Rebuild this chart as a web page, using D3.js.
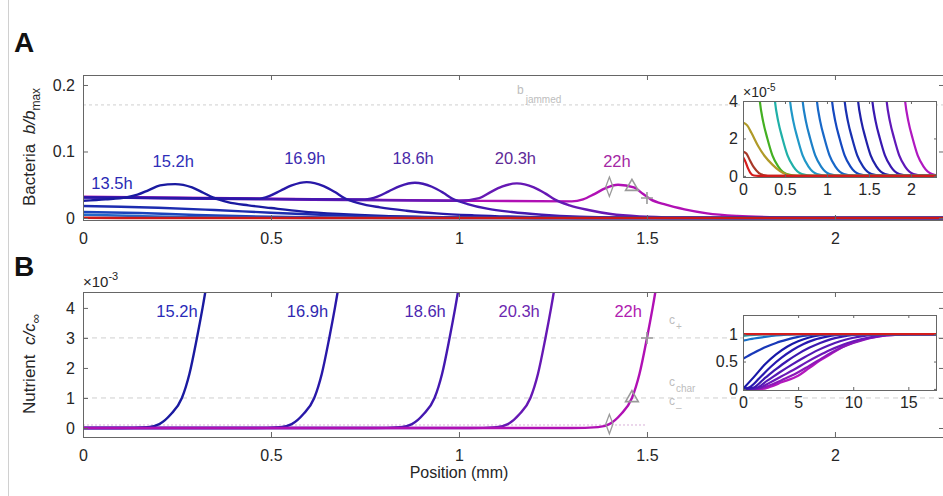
<!DOCTYPE html>
<html>
<head>
<meta charset="utf-8">
<script src="https://cdn.jsdelivr.net/npm/d3@7"></script>
<style>
body { margin: 0; background: #fff; }
text { font-family: "Liberation Sans", Arial, Helvetica, sans-serif; }
</style>
</head>
<body>
<div id="main"></div>
<script>
// ---------------- data ----------------
const xTicks = [0, 0.5, 1, 1.5, 2];
const bacteriaTicks = [0, 0.1, 0.2];
const nutrientTicks = [0, 1, 2, 3, 4];          // x 1e-3
const insetBTicksX = [0, 0.5, 1, 1.5, 2];
const insetBTicksY = [0, 2, 4];                 // x 1e-5
const insetCTicksX = [0, 5, 10, 15];
const insetCTicksY = [0, 0.5, 1];

const timeLabels = ["13.5h", "15.2h", "16.9h", "18.6h", "20.3h", "22h"];
const bJammed = 0.17;
const cLevels = [3.0, 1.0, 0.1];               // c+, cchar, c-  (x 1e-3)

// markers on the 22h profile
const markerX = [1.40, 1.46, 1.50];
const markerB = [0.047, 0.047, 0.030];
const markerC = [0.13, 1.0, 3.0];

// panel A, bacteria profiles b/bmax
const bEarliest = [[0, 0.0003], [0.1, 0], [2.3, 0]];
const bEarly3 = [[0, 0.005], [0.15, 0.003], [0.3, 0.0012], [0.5, 0.0002], [0.7, 0], [2.3, 0]];
const bEarly2 = [[0, 0.009], [0.15, 0.0075], [0.3, 0.0045], [0.5, 0.0018], [0.7, 0.0004], [0.9, 0], [2.3, 0]];
const b135 = [[0, 0.018], [0.1, 0.017], [0.2, 0.0155], [0.35, 0.012], [0.5, 0.008], [0.65, 0.0045], [0.8, 0.002], [1.0, 0.0005], [1.2, 0], [2.3, 0]];
const b152 = [[0, 0.026], [0.06, 0.028], [0.115, 0.031], [0.145, 0.035], [0.175, 0.042], [0.205, 0.049], [0.245, 0.051], [0.29, 0.046], [0.32, 0.038], [0.345, 0.031], [0.385, 0.024], [0.44, 0.019], [0.5, 0.015], [0.58, 0.01], [0.68, 0.006], [0.8, 0.003], [1.0, 0.001], [1.2, 0], [2.3, 0]];
const b169 = [[0, 0.031], [0.25, 0.030], [0.465, 0.029], [0.495, 0.033], [0.525, 0.041], [0.555, 0.049], [0.595, 0.054], [0.64, 0.048], [0.67, 0.039], [0.695, 0.030], [0.735, 0.022], [0.79, 0.016], [0.86, 0.011], [0.94, 0.007], [1.04, 0.004], [1.18, 0.0015], [1.35, 0], [2.3, 0]];
const b186 = [[0, 0.031], [0.4, 0.029], [0.75, 0.028], [0.783, 0.032], [0.813, 0.040], [0.843, 0.048], [0.883, 0.053], [0.928, 0.047], [0.958, 0.038], [0.983, 0.029], [1.023, 0.021], [1.075, 0.014], [1.14, 0.009], [1.22, 0.005], [1.32, 0.002], [1.47, 0.0005], [1.6, 0], [2.3, 0]];
const b203 = [[0, 0.031], [0.5, 0.028], [1.0, 0.026], [1.054, 0.030], [1.084, 0.039], [1.114, 0.047], [1.154, 0.052], [1.199, 0.046], [1.229, 0.037], [1.254, 0.028], [1.294, 0.019], [1.344, 0.012], [1.404, 0.006], [1.48, 0.0025], [1.6, 0.0007], [1.75, 0], [2.3, 0]];
const b220 = [[0, 0.032], [0.5, 0.029], [1.0, 0.026], [1.3, 0.025], [1.33, 0.028], [1.36, 0.036], [1.39, 0.045], [1.423, 0.050], [1.465, 0.046], [1.49, 0.036], [1.51, 0.028], [1.55, 0.020], [1.6, 0.013], [1.66, 0.007], [1.74, 0.003], [1.85, 0.001], [2.0, 0], [2.3, 0]];

// panel A inset (x 1e-5)
const insetRed = [[0, 1.0], [0.03, 0.75], [0.06, 0.4], [0.09, 0.15], [0.13, 0.02], [0.18, 0], [2.31, 0]];
const insetBrown = [[0, 1.3], [0.04, 1.2], [0.08, 0.85], [0.13, 0.45], [0.19, 0.15], [0.26, 0.03], [0.33, 0], [2.31, 0]];
const insetOlive = [[0, 2.85], [0.05, 2.7], [0.1, 2.3], [0.18, 1.6], [0.26, 1.05], [0.35, 0.6], [0.44, 0.25], [0.52, 0.07], [0.6, 0], [2.31, 0]];
const frontY = [5, 4, 2.9, 2.0, 1.1, 0.5, 0.1, 0, 0];
const frontX = [
    [0.18, 0.20, 0.24, 0.29, 0.35, 0.42, 0.52, 0.65, 2.31],
    [0.36, 0.38, 0.42, 0.47, 0.53, 0.60, 0.70, 0.83, 2.31],
    [0.54, 0.56, 0.60, 0.65, 0.71, 0.78, 0.88, 1.01, 2.31],
    [0.69, 0.71, 0.75, 0.80, 0.86, 0.93, 1.03, 1.16, 2.31],
    [0.86, 0.88, 0.92, 0.97, 1.03, 1.10, 1.20, 1.33, 2.31],
    [1.04, 1.06, 1.10, 1.15, 1.21, 1.28, 1.38, 1.51, 2.31],
    [1.19, 1.21, 1.25, 1.30, 1.36, 1.43, 1.53, 1.66, 2.31],
    [1.35, 1.37, 1.41, 1.46, 1.52, 1.59, 1.69, 1.82, 2.31],
    [1.52, 1.54, 1.58, 1.63, 1.69, 1.76, 1.86, 1.99, 2.31],
    [1.69, 1.71, 1.75, 1.80, 1.86, 1.93, 2.03, 2.16, 2.31],
    [1.91, 1.93, 1.97, 2.02, 2.08, 2.15, 2.25, 2.38, 2.40]
];

// panel B, nutrient profiles c/cinf (x 1e-3)
const c152 = [[0, 0], [0.10, 0], [0.173, 0.03], [0.203, 0.13], [0.233, 0.45], [0.263, 1.0], [0.283, 1.8], [0.303, 3.0], [0.318, 4.0], [0.338, 5.5]];
const c169 = [[0, 0], [0.45, 0], [0.525, 0.03], [0.555, 0.13], [0.585, 0.45], [0.615, 1.0], [0.635, 1.8], [0.655, 3.0], [0.67, 4.0], [0.69, 5.5]];
const c186 = [[0, 0], [0.77, 0], [0.845, 0.03], [0.875, 0.13], [0.905, 0.45], [0.935, 1.0], [0.955, 1.8], [0.975, 3.0], [0.99, 4.0], [1.01, 5.5]];
const c203 = [[0, 0], [1.03, 0], [1.10, 0.03], [1.13, 0.13], [1.16, 0.45], [1.19, 1.0], [1.21, 1.8], [1.23, 3.0], [1.245, 4.0], [1.265, 5.5]];
const c220 = [[0, 0], [1.30, 0], [1.37, 0.03], [1.40, 0.13], [1.43, 0.45], [1.46, 1.0], [1.48, 1.8], [1.50, 3.0], [1.515, 4.0], [1.535, 5.5]];

// panel B inset
const cInRed = [[0, 1], [17.6, 1]];
const cInTeal = [[0, 0.97], [1, 0.985], [2, 0.995], [3, 1], [17.6, 1]];
const cInLight = [[0, 0.88], [1, 0.92], [2, 0.95], [3, 0.975], [4, 0.99], [5, 1], [17.6, 1]];
const cInBlue = [[0, 0.55], [1, 0.66], [2, 0.76], [3, 0.84], [4, 0.9], [5, 0.95], [6, 0.98], [7, 1], [17.6, 1]];
const cIn1 = [[0, 0], [1, 0.22], [2, 0.45], [3, 0.63], [4, 0.77], [5, 0.87], [6, 0.94], [7, 0.98], [8, 1], [17.6, 1]];
const cIn2 = [[0, 0], [0.6, 0.03], [1.5, 0.2], [2.5, 0.4], [3.5, 0.57], [4.5, 0.71], [5.5, 0.82], [6.5, 0.9], [7.5, 0.95], [8.5, 0.985], [9.5, 1], [17.6, 1]];
const cIn3 = [[0, 0], [0.9, 0.02], [2, 0.2], [3, 0.36], [4, 0.51], [5, 0.64], [6, 0.75], [7, 0.84], [8, 0.91], [9, 0.955], [10, 0.985], [11, 1], [17.6, 1]];
const cIn4 = [[0, 0], [1.1, 0.01], [2.2, 0.15], [3.3, 0.3], [4.4, 0.44], [5.5, 0.57], [6.6, 0.69], [7.7, 0.79], [8.8, 0.87], [9.9, 0.93], [11, 0.97], [12, 0.99], [13, 1], [17.6, 1]];
const cIn5 = [[0, 0], [1.3, 0.01], [2.4, 0.11], [3.5, 0.23], [4.6, 0.35], [5.7, 0.48], [6.8, 0.6], [7.9, 0.71], [9, 0.8], [10, 0.87], [11, 0.92], [12, 0.96], [13, 0.985], [14, 1], [17.6, 1]];
const cIn6 = [[0, 0], [1.5, 0.01], [2.5, 0.07], [3.5, 0.16], [4.8, 0.28], [6, 0.42], [7, 0.54], [8, 0.66], [9, 0.76], [10, 0.84], [11, 0.9], [12, 0.945], [13, 0.975], [14, 0.99], [15, 1], [17.6, 1]];
const cIn7 = [[0, 0], [1.7, 0], [2.5, 0.04], [3.5, 0.12], [5, 0.24], [6, 0.38], [7, 0.52], [8, 0.64], [9, 0.76], [10, 0.85], [11, 0.91], [12, 0.95], [13, 0.975], [14, 0.99], [15.5, 1], [17.6, 1]];

// ---------------- layout & style ----------------
const ctx = {
    width: 943,
    height: 496,
    left: 83,
    right: 944,
    aTop: 75, aBottom: 220,
    bTop: 292, bBottom: 437,
    inLeft: 743, inRight: 937,
    inATop: 101, inABottom: 177,
    inBTop: 315, inBBottom: 390,
    boxColor: "#666",
    textColor: "#262626",
    faint: "#bdbdbd",
    font: 16
};

const curveColorsA = ["#b010b4", "#6618b4", "#4418b0", "#2818a8", "#1a1aa0", "#1c2cb0", "#1c44bc", "#2068c8", "#cc1818"];
const frontColors = ["#44b022", "#20b0a8", "#2098c8", "#1c80c8", "#1868c8", "#1448c0", "#1830b0", "#2020a8", "#3818b0", "#6018b8", "#b018c0"];
const curveColorsB = ["#1a1aa0", "#2818a8", "#4418b0", "#6618b4", "#b010b4"];
const inCColors = ["#1818a8", "#2818b0", "#3c18b0", "#5418b4", "#6c18b8", "#8c18b8", "#b418bc"];
const labelColorsA = ["#2a2ab4", "#2e2eb8", "#3a2ab0", "#4a2aa8", "#5e2a98", "#a428a4"];
const labelColorsB = ["#2a2ab8", "#3028b0", "#4c28b0", "#6c28b0", "#b020b0"];

function styleAxis(g){
    g.select(".domain").remove();
    g.attr("font-size", ctx.font).attr("font-family", null);
    g.selectAll("line").attr("stroke", ctx.boxColor);
    g.selectAll("text").attr("fill", ctx.textColor);
}

function drawFrame(g, x, y, xt, yt, fmtY, tick, padX, padY, bottom){
    let x0 = x.range()[0], x1 = x.range()[1];
    let yb = bottom, ytop = y.range()[1];
    g.append("g").attr("transform", "translate(0," + yb + ")")
        .call(d3.axisBottom(x).tickValues(xt).tickSizeInner(-tick).tickSizeOuter(0).tickPadding(padX).tickFormat(d => String(d)))
        .call(styleAxis);
    g.append("g").attr("transform", "translate(0," + ytop + ")")
        .call(d3.axisTop(x).tickValues(xt).tickSizeInner(-tick).tickSizeOuter(0).tickFormat(""))
        .call(styleAxis);
    g.append("g").attr("transform", "translate(" + x0 + ",0)")
        .call(d3.axisLeft(y).tickValues(yt).tickSizeInner(-tick).tickSizeOuter(0).tickPadding(padY).tickFormat(fmtY))
        .call(styleAxis);
    g.append("g").attr("transform", "translate(" + x1 + ",0)")
        .call(d3.axisRight(y).tickValues(yt).tickSizeInner(-tick).tickSizeOuter(0).tickFormat(""))
        .call(styleAxis);
    g.append("rect")
        .attr("x", x0 + 0.5).attr("y", ytop + 0.5)
        .attr("width", x1 - x0 - 1).attr("height", yb - ytop)
        .attr("fill", "none").attr("stroke", ctx.boxColor).attr("stroke-width", 1);
}

function addClip(svg, id, x, y){
    svg.select("defs").append("clipPath").attr("id", id).append("rect")
        .attr("x", x.range()[0]).attr("y", y.range()[1])
        .attr("width", x.range()[1] - x.range()[0])
        .attr("height", y.range()[0] - y.range()[1]);
}

function drawCurves(g, curves, colors, x, y, width){
    let line = d3.line().x(d => x(d[0])).y(d => y(d[1])).curve(d3.curveMonotoneX);
    curves.forEach((c, i) => {
        g.append("path").attr("d", line(c))
            .attr("fill", "none").attr("stroke", colors[i])
            .attr("stroke-width", width).attr("stroke-linejoin", "round");
    });
}

function drawMarkers(g, xs, ys, x, y){
    // diamond, triangle, plus
    g.append("path").attr("d", d3.symbol().type(d3.symbolDiamond).size(70)())
        .attr("transform", "translate(" + x(xs[0]) + "," + y(ys[0]) + ") scale(0.8,1.25)")
        .attr("fill", "none").attr("stroke", "#9a9a9a").attr("stroke-width", 1.5);
    g.append("path").attr("d", d3.symbol().type(d3.symbolTriangle).size(70)())
        .attr("transform", "translate(" + x(xs[1]) + "," + y(ys[1]) + ")")
        .attr("fill", "none").attr("stroke", "#9a9a9a").attr("stroke-width", 1.6);
    g.append("path").attr("d", "M-6,0H6M0,-6V6")
        .attr("transform", "translate(" + x(xs[2]) + "," + y(ys[2]) + ")")
        .attr("fill", "none").attr("stroke", "#9a9a9a").attr("stroke-width", 1.6);
}

function createViz(){
    let svg = d3.select("#main").append("svg")
        .attr("width", ctx.width).attr("height", ctx.height);
    svg.append("defs");
    svg.append("rect").attr("width", ctx.width).attr("height", ctx.height).attr("fill", "white");
    svg.append("line").attr("x1", 8.5).attr("x2", 8.5).attr("y1", 0).attr("y2", ctx.height)
        .attr("stroke", "#d0d0d0");

    drawPanelA(svg);
    drawPanelB(svg);
}

function drawPanelA(svg){
    let x = d3.scaleLinear().domain([0, 2.29]).range([ctx.left, ctx.right]);
    let y = d3.scaleLinear().domain([-0.003, 0.215]).range([ctx.aBottom, ctx.aTop]);
    let g = svg.append("g").attr("id", "panelA");
    addClip(svg, "clipA", x, y);

    g.append("text").attr("x", 14).attr("y", 52).attr("font-size", 28).attr("font-weight", "bold")
        .attr("fill", "#111").text("A");

    let plot = g.append("g").attr("clip-path", "url(#clipA)");
    plot.append("line")
        .attr("x1", x(0)).attr("x2", x(2.29)).attr("y1", y(bJammed)).attr("y2", y(bJammed))
        .attr("stroke", "#cfcfcf").attr("stroke-dasharray", "3,3");
    let bj = g.append("text").attr("x", 517).attr("y", y(bJammed) - 11).attr("font-size", 12).attr("fill", ctx.faint);
    bj.append("tspan").text("b");
    bj.append("tspan").attr("font-size", 10).attr("dy", 9).attr("dx", 2).text("jammed");

    drawCurves(plot, [b220, b203, b186, b169, b152, b135, bEarly2, bEarly3, bEarliest], curveColorsA, x, y, 2.4);
    drawMarkers(plot, markerX, markerB, x, y);

    drawFrame(g, x, y, xTicks, bacteriaTicks, d => d === 0 ? "0" : d3.format(".1f")(d), 5, 13, 8, ctx.aBottom);

    let labelPos = [[0.077, 0.043], [0.24, 0.076], [0.59, 0.081], [0.878, 0.081], [1.15, 0.081], [1.42, 0.076]];
    timeLabels.forEach((t, i) => {
        g.append("text").attr("x", x(labelPos[i][0])).attr("y", y(labelPos[i][1]))
            .attr("text-anchor", "middle").attr("font-size", 16.5).attr("fill", labelColorsA[i]).text(t);
    });

    let yl = g.append("text").attr("transform", "translate(35,147) rotate(-90)")
        .attr("text-anchor", "middle").attr("font-size", 17).attr("fill", ctx.textColor);
    yl.append("tspan").text("Bacteria\u00a0\u00a0");
    yl.append("tspan").attr("font-style", "italic").text("b/b");
    yl.append("tspan").attr("font-size", 12).attr("dy", 5).text("max");

    // inset
    let xi = d3.scaleLinear().domain([0, 2.31]).range([ctx.inLeft, ctx.inRight]);
    let yi = d3.scaleLinear().domain([-0.06, 4]).range([ctx.inABottom, ctx.inATop]);
    addClip(svg, "clipAi", xi, yi);
    g.append("rect").attr("x", ctx.inLeft).attr("y", ctx.inATop)
        .attr("width", ctx.inRight - ctx.inLeft).attr("height", ctx.inABottom - ctx.inATop).attr("fill", "white");
    let ip = g.append("g").attr("clip-path", "url(#clipAi)");
    let fronts = frontX.map(xs => xs.map((v, j) => [v, frontY[j]])).reverse();
    drawCurves(ip, fronts.concat([insetOlive, insetBrown, insetRed]),
        frontColors.slice().reverse().concat(["#b09a28", "#a83828", "#d41c1c"]), xi, yi, 2.2);
    drawFrame(g, xi, yi, insetBTicksX, insetBTicksY, d => String(d), 3, 7, 5, ctx.inABottom);
    let ex = g.append("text").attr("x", ctx.inLeft).attr("y", ctx.inATop - 4).attr("font-size", 14).attr("fill", ctx.textColor);
    ex.append("tspan").text("\u00d710");
    ex.append("tspan").attr("font-size", 10).attr("dy", -6).text("-5");
}

function drawPanelB(svg){
    let x = d3.scaleLinear().domain([0, 2.29]).range([ctx.left, ctx.right]);
    let y = d3.scaleLinear().domain([-0.3, 4.53]).range([ctx.bBottom, ctx.bTop]);
    let g = svg.append("g").attr("id", "panelB");
    addClip(svg, "clipB", x, y);

    g.append("text").attr("x", 14).attr("y", 276).attr("font-size", 28).attr("font-weight", "bold")
        .attr("fill", "#111").text("B");

    let plot = g.append("g").attr("clip-path", "url(#clipB)");
    let levelEnds = [2.29, 2.29, 1.5];
    cLevels.forEach((c, i) => {
        plot.append("line").attr("x1", x(0)).attr("x2", x(levelEnds[i]))
            .attr("y1", y(c)).attr("y2", y(c))
            .attr("stroke", i === 2 ? "#d8b0d8" : "#cfcfcf")
            .attr("stroke-dasharray", i === 2 ? "2,2" : "5,4");
    });
    let subs = ["+", "char", "\u2013"];
    let subY = [324, 386, 405];
    subs.forEach((s, i) => {
        let t = g.append("text").attr("x", 669).attr("y", subY[i]).attr("font-size", 12).attr("fill", ctx.faint);
        t.append("tspan").text("c");
        t.append("tspan").attr("font-size", 10).attr("dy", 6).attr("dx", 1).text(s);
    });

    drawCurves(plot, [c152, c169, c186, c203, c220], curveColorsB, x, y, 2.4);
    drawMarkers(plot, markerX, markerC, x, y);

    drawFrame(g, x, y, xTicks, nutrientTicks, d => String(d), 5, 13, 8, ctx.bBottom);

    let ex = g.append("text").attr("x", ctx.left).attr("y", ctx.bTop - 5).attr("font-size", 15).attr("fill", ctx.textColor);
    ex.append("tspan").text("\u00d710");
    ex.append("tspan").attr("font-size", 11).attr("dy", -7).text("-3");

    let labelPos = [[0.25, 4.1], [0.597, 4.1], [0.91, 4.1], [1.16, 4.1], [1.45, 4.1]];
    timeLabels.slice(1).forEach((t, i) => {
        g.append("text").attr("x", x(labelPos[i][0])).attr("y", y(labelPos[i][1]) + 12)
            .attr("text-anchor", "middle").attr("font-size", 16.5).attr("fill", labelColorsB[i]).text(t);
    });

    let yl = g.append("text").attr("transform", "translate(35,364) rotate(-90)")
        .attr("text-anchor", "middle").attr("font-size", 17).attr("fill", ctx.textColor);
    yl.append("tspan").text("Nutrient\u00a0\u00a0");
    yl.append("tspan").attr("font-style", "italic").text("c/c");
    yl.append("tspan").attr("font-size", 13).attr("dy", 5).text("\u221e");

    g.append("text").attr("x", x(1)).attr("y", 478).attr("text-anchor", "middle")
        .attr("font-size", 16).attr("fill", ctx.textColor).text("Position (mm)");

    // inset
    let xi = d3.scaleLinear().domain([0, 17.6]).range([ctx.inLeft, ctx.inRight]);
    let yi = d3.scaleLinear().domain([-0.02, 1.35]).range([ctx.inBBottom, ctx.inBTop]);
    addClip(svg, "clipBi", xi, yi);
    g.append("rect").attr("x", ctx.inLeft).attr("y", ctx.inBTop)
        .attr("width", ctx.inRight - ctx.inLeft).attr("height", ctx.inBBottom - ctx.inBTop).attr("fill", "white");
    let ip = g.append("g").attr("clip-path", "url(#clipBi)");
    drawCurves(ip, [cIn7, cIn6, cIn5, cIn4, cIn3, cIn2, cIn1, cInBlue, cInLight, cInTeal, cInRed],
        inCColors.slice().reverse().concat(["#1838b8", "#1870c8", "#20a0b0", "#d41c1c"]), xi, yi, 2.2);
    drawFrame(g, xi, yi, insetCTicksX, insetCTicksY, d => String(d), 3, 7, 5, ctx.inBBottom);
}

createViz();
</script>
</body>
</html>
